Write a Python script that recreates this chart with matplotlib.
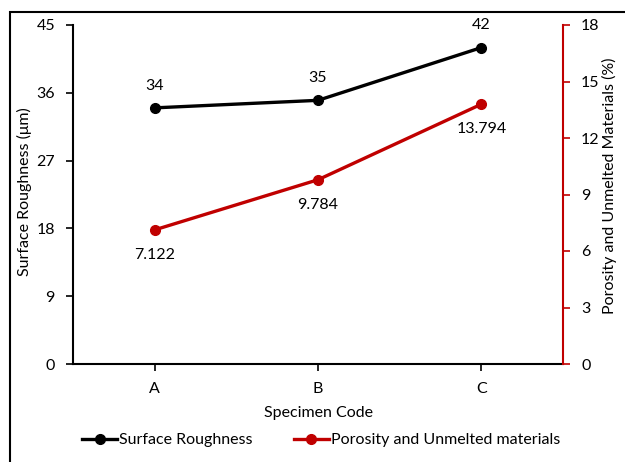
import matplotlib
matplotlib.use("Agg")
import matplotlib.pyplot as plt
from matplotlib.patches import Rectangle
from matplotlib.lines import Line2D

plt.rcParams['font.family'] = ['Lato', 'DejaVu Sans']

categories = ["A", "B", "C"]
roughness = [34, 35, 42]
porosity = [7.122, 9.784, 13.794]
roughness_labels = ["34", "35", "42"]
porosity_labels = ["7.122", "9.784", "13.794"]

RED = "#C00000"
FS = 11.5
W, H = 625, 462
fig = plt.figure(figsize=(W / 100, H / 100), dpi=100)

# chart frame (runs off the right and bottom edges)
fig.patches.append(Rectangle((10 / W, -0.1), 1.2, 1 - 12 / H + 0.1,
                             transform=fig.transFigure, fill=False,
                             edgecolor="black", linewidth=1.5))

left, right, top, bottom = 73, 563, 25, 364
ax = fig.add_axes([left / W, 1 - bottom / H, (right - left) / W, (bottom - top) / H])
ax2 = ax.twinx()

x = list(range(len(categories)))
ax.plot(x, roughness, color="black", lw=2.4, marker="o", ms=7, zorder=3)
ax2.plot(x, porosity, color=RED, lw=2.4, marker="o", ms=7, zorder=3)

for xi, v, t in zip(x, roughness, roughness_labels):
    ax.annotate(t, (xi, v), xytext=(0, 11), textcoords="offset points",
                ha="center", va="bottom", fontsize=FS)
for xi, v, t in zip(x, porosity, porosity_labels):
    ax2.annotate(t, (xi, v), xytext=(0, -13), textcoords="offset points",
                 ha="center", va="top", fontsize=FS)

ax.set_xlim(-0.5, 2.5)
ax.set_ylim(0, 45)
ax.set_yticks(range(0, 46, 9))
ax2.set_ylim(0, 18)
ax2.set_yticks(range(0, 19, 3))
ax.set_xticks(x)
ax.set_xticklabels(categories)

for s in ["top", "right"]:
    ax.spines[s].set_visible(False)
ax2.spines["top"].set_visible(False)
ax2.spines["left"].set_visible(False)
ax2.spines["bottom"].set_visible(False)
ax.spines["left"].set_linewidth(1.5)
ax.spines["bottom"].set_linewidth(1.5)
ax2.spines["right"].set_color(RED)
ax2.spines["right"].set_linewidth(1.5)

ax.tick_params(axis="both", direction="out", length=5, width=1.2, labelsize=FS, pad=8)
ax2.tick_params(axis="y", direction="out", length=5, width=1.2, color=RED,
                labelsize=FS, pad=8)

ax.set_xlabel("Specimen Code", fontsize=FS, labelpad=7)
ax.set_ylabel("Surface Roughness (μm)", fontsize=FS)
ax.yaxis.set_label_coords(24 / W, 1 - 192 / H, transform=fig.transFigure)
ax2.set_ylabel("Porosity and Unmelted Materials (%)", fontsize=FS)
ax2.yaxis.set_label_coords(609 / W, 1 - 186 / H, transform=fig.transFigure)
ax.yaxis.label.set_verticalalignment("center")
ax2.yaxis.label.set_verticalalignment("center")

handles = [Line2D([], [], color="black", lw=2.4, marker="o", ms=7),
           Line2D([], [], color=RED, lw=2.4, marker="o", ms=7)]
fig.legend(handles, ["Surface Roughness", "Porosity and Unmelted materials"],
           loc="center", bbox_to_anchor=(321 / W, 1 - 440 / H), ncol=2,
           frameon=False, fontsize=FS, handlelength=2.2, handletextpad=0.1,
           columnspacing=2.6)

fig.savefig("out.png", dpi=100)
